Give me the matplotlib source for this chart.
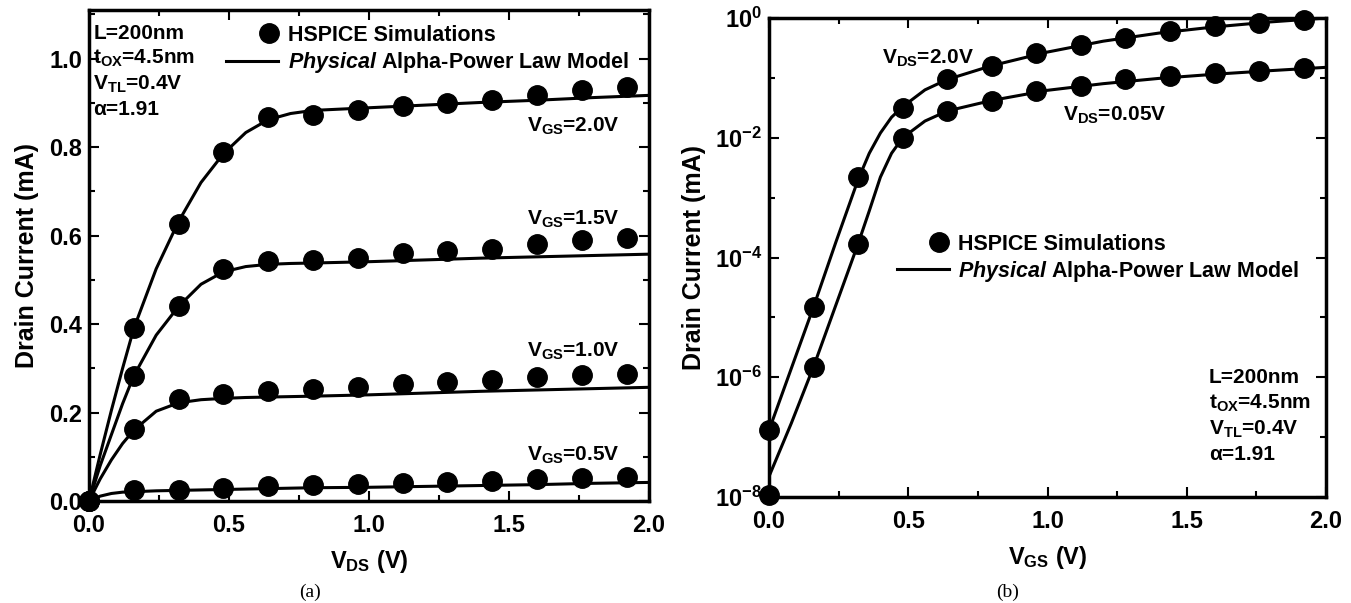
import numpy as np
import matplotlib
matplotlib.use('Agg')
import matplotlib.pyplot as plt
from matplotlib.lines import Line2D
from matplotlib.legend_handler import HandlerLine2D
from matplotlib.ticker import MultipleLocator, FixedLocator, NullFormatter, FormatStrFormatter

plt.rcParams['font.family'] = ['Liberation Sans', 'DejaVu Sans']
plt.rcParams['font.weight'] = 'bold'
plt.rcParams['mathtext.fontset'] = 'custom'
plt.rcParams['mathtext.rm'] = 'Liberation Sans:bold'
plt.rcParams['mathtext.it'] = 'Liberation Sans:bold:italic'
plt.rcParams['mathtext.bf'] = 'Liberation Sans:bold'
plt.rcParams['mathtext.default'] = 'rm'

# ---- (a) Id-Vds ----
vds_pts = [0.0, 0.16, 0.32, 0.48, 0.64, 0.80, 0.96, 1.12, 1.28, 1.44, 1.60, 1.76, 1.92]
id_vgs20 = [0.0, 0.39, 0.627, 0.788, 0.868, 0.873, 0.884, 0.892, 0.900, 0.907, 0.918, 0.929, 0.936]
id_vgs15 = [0.0, 0.283, 0.44, 0.525, 0.542, 0.545, 0.55, 0.56, 0.565, 0.57, 0.58, 0.59, 0.595]
id_vgs10 = [0.0, 0.162, 0.230, 0.241, 0.248, 0.253, 0.258, 0.264, 0.268, 0.273, 0.281, 0.285, 0.288]
id_vgs05 = [0.0, 0.024, 0.025, 0.030, 0.033, 0.036, 0.038, 0.040, 0.043, 0.046, 0.049, 0.052, 0.054]

vds_fit = [0, 0.04, 0.08, 0.12, 0.16, 0.24, 0.32, 0.40, 0.48, 0.56, 0.64, 0.72, 0.80, 1.0, 1.2, 1.4, 1.6, 1.8, 2.0]
fit20 = [0, 0.105, 0.205, 0.30, 0.39, 0.525, 0.632, 0.72, 0.785, 0.833, 0.862, 0.876, 0.883, 0.889, 0.895, 0.901, 0.906, 0.912, 0.917]
fit15 = [0, 0.08, 0.15, 0.22, 0.283, 0.375, 0.44, 0.49, 0.518, 0.530, 0.535, 0.537, 0.538, 0.541, 0.545, 0.549, 0.552, 0.555, 0.558]
fit10 = [0, 0.05, 0.093, 0.13, 0.16, 0.203, 0.222, 0.229, 0.232, 0.234, 0.235, 0.236, 0.237, 0.240, 0.244, 0.248, 0.251, 0.254, 0.257]
fit05 = [0, 0.011, 0.017, 0.020, 0.021, 0.023, 0.024, 0.025, 0.026, 0.027, 0.028, 0.029, 0.030, 0.031, 0.033, 0.035, 0.037, 0.040, 0.042]

vgs_labels = ['V$_{GS}$=2.0V', 'V$_{GS}$=1.5V', 'V$_{GS}$=1.0V', 'V$_{GS}$=0.5V']
vgs_label_y = [0.846, 0.637, 0.338, 0.104]

# ---- (b) Id-Vgs ----
vgs_pts = [0.0, 0.16, 0.32, 0.48, 0.64, 0.80, 0.96, 1.12, 1.28, 1.44, 1.60, 1.76, 1.92]
id_vds20 = [1.3e-7, 1.5e-5, 2.2e-3, 3.2e-2, 9.4e-2, 0.156, 0.26, 0.36, 0.47, 0.60, 0.73, 0.83, 0.94]
id_vds005 = [1.1e-8, 1.5e-6, 1.7e-4, 1.0e-2, 2.8e-2, 4.1e-2, 6.0e-2, 7.3e-2, 9.4e-2, 0.107, 0.12, 0.13, 0.147]

vgs_fit = [0, 0.08, 0.16, 0.24, 0.32, 0.36, 0.40, 0.44, 0.48, 0.56, 0.64, 0.80, 1.0, 1.2, 1.4, 1.6, 1.8, 2.0]
fit_vds20 = [1.3e-7, 1.4e-6, 1.5e-5, 1.8e-4, 2.0e-3, 5.5e-3, 1.2e-2, 2.2e-2, 3.3e-2, 6.3e-2, 9.4e-2, 0.16, 0.27, 0.41, 0.56, 0.71, 0.86, 1.0]
fit_vds005 = [2.2e-8, 1.7e-7, 1.5e-6, 1.6e-5, 1.7e-4, 6.0e-4, 2.2e-3, 5.5e-3, 1.0e-2, 1.9e-2, 2.8e-2, 4.2e-2, 6.2e-2, 8.0e-2, 9.8e-2, 0.115, 0.132, 0.15]

log_ticks = [1e-8, 1e-6, 1e-4, 1e-2, 1e0]
log_ticklabels = ['10$^{-8}$', '10$^{-6}$', '10$^{-4}$', '10$^{-2}$', '10$^{0}$']

params = ['L=200nm', 't$_{OX}$=4.5nm', 'V$_{TL}$=0.4V', 'α=1.91']
legend_labels = ['HSPICE Simulations', r'$\mathit{Physical}$ Alpha-Power Law Model']


class MarkerRight(HandlerLine2D):
    # single legend marker is drawn mid-way of xdata, so shift the span right
    def get_xdata(self, legend, xdescent, ydescent, width, height, fontsize):
        xd = np.array([0.64 * width - xdescent, width - xdescent])
        return xd, xd


def style_axis(ax):
    for sp in ax.spines.values():
        sp.set_linewidth(2.5)
    ax.tick_params(which='both', direction='in', top=True, right=True, width=1.5, labelsize=17)
    ax.tick_params(axis='x', pad=9)
    ax.tick_params(axis='y', pad=5)
    ax.tick_params(which='major', length=7)
    ax.tick_params(which='minor', length=4)
    for lbl in ax.get_xticklabels() + ax.get_yticklabels():
        lbl.set_weight('bold')


def add_legend(ax, anchor):
    h1 = Line2D([], [], marker='o', ls='none', color='k', ms=14)
    h2 = Line2D([], [], color='k', lw=2.2)
    ax.legend([h1, h2], legend_labels,
              loc='upper left', bbox_to_anchor=anchor, frameon=False, fontsize=15.5,
              handlelength=2.4, handletextpad=0.45, labelspacing=0.2, borderpad=0,
              borderaxespad=0, numpoints=1, handler_map={h1: MarkerRight()})


fig = plt.figure(figsize=(13.51, 6.03), dpi=100)

# panel (a)
ax1 = fig.add_axes([89 / 1351, 102 / 603, 560 / 1351, 491 / 603])
for fit in [fit20, fit15, fit10, fit05]:
    ax1.plot(vds_fit, fit, color='k', lw=2.2, zorder=2)
for pts in [id_vgs20, id_vgs15, id_vgs10, id_vgs05]:
    ax1.plot(vds_pts, pts, 'o', color='k', ms=14, zorder=3, clip_on=False)
ax1.set_xlim(0, 2.0)
ax1.set_ylim(0, 1.11)
ax1.xaxis.set_major_locator(MultipleLocator(0.5))
ax1.xaxis.set_minor_locator(MultipleLocator(0.25))
ax1.yaxis.set_major_locator(MultipleLocator(0.2))
ax1.yaxis.set_minor_locator(MultipleLocator(0.1))
ax1.xaxis.set_major_formatter(FormatStrFormatter('%.1f'))
ax1.yaxis.set_major_formatter(FormatStrFormatter('%.1f'))
style_axis(ax1)
ax1.set_ylabel('Drain Current (mA)', fontsize=18, fontweight='bold', labelpad=7)
ax1.set_xlabel('V$_{DS}$ (V)', fontsize=17, fontweight='bold', labelpad=8)
for lab, y in zip(vgs_labels, vgs_label_y):
    ax1.text(1.73, y, lab, fontsize=15, ha='center', va='center')
for i, p in enumerate(params):
    ax1.text(0.008, 0.953 - i * 0.052, p, transform=ax1.transAxes, fontsize=15, va='center')
add_legend(ax1, (0.245, 0.97))

# panel (b)
ax2 = fig.add_axes([769 / 1351, 106 / 603, 557 / 1351, 479 / 603])
ax2.set_yscale('log')
ax2.plot(vgs_fit, fit_vds20, color='k', lw=2.2, zorder=2)
ax2.plot(vgs_fit, fit_vds005, color='k', lw=2.2, zorder=2)
ax2.plot(vgs_pts, id_vds20, 'o', color='k', ms=14, zorder=3, clip_on=False)
ax2.plot(vgs_pts, id_vds005, 'o', color='k', ms=14, zorder=3, clip_on=False)
ax2.set_xlim(0, 2.0)
ax2.set_ylim(1e-8, 1.0)
ax2.xaxis.set_major_locator(MultipleLocator(0.5))
ax2.xaxis.set_minor_locator(MultipleLocator(0.25))
ax2.xaxis.set_major_formatter(FormatStrFormatter('%.1f'))
ax2.set_yticks(log_ticks)
ax2.set_yticklabels(log_ticklabels)
ax2.yaxis.set_minor_locator(FixedLocator([1e-7, 1e-5, 1e-3, 1e-1]))
ax2.yaxis.set_minor_formatter(NullFormatter())
style_axis(ax2)
ax2.set_ylabel('Drain Current (mA)', fontsize=18, fontweight='bold', labelpad=6)
ax2.set_xlabel('V$_{GS}$ (V)', fontsize=17, fontweight='bold', labelpad=8)
ax2.text(0.57, 0.21, 'V$_{DS}$=2.0V', fontsize=15, ha='center', va='center')
ax2.text(1.24, 0.024, 'V$_{DS}$=0.05V', fontsize=15, ha='center', va='center')
for i, p in enumerate(params):
    ax2.text(0.79, 0.25 - i * 0.054, p, transform=ax2.transAxes, fontsize=15, va='center')
add_legend(ax2, (0.23, 0.55))

fig.text(310 / 1351, 1 - 592 / 603, '(a)', fontsize=14, family='Liberation Serif', fontweight='normal', ha='center', va='center')
fig.text(1008 / 1351, 1 - 592 / 603, '(b)', fontsize=14, family='Liberation Serif', fontweight='normal', ha='center', va='center')

fig.savefig('out.png', dpi=100)
